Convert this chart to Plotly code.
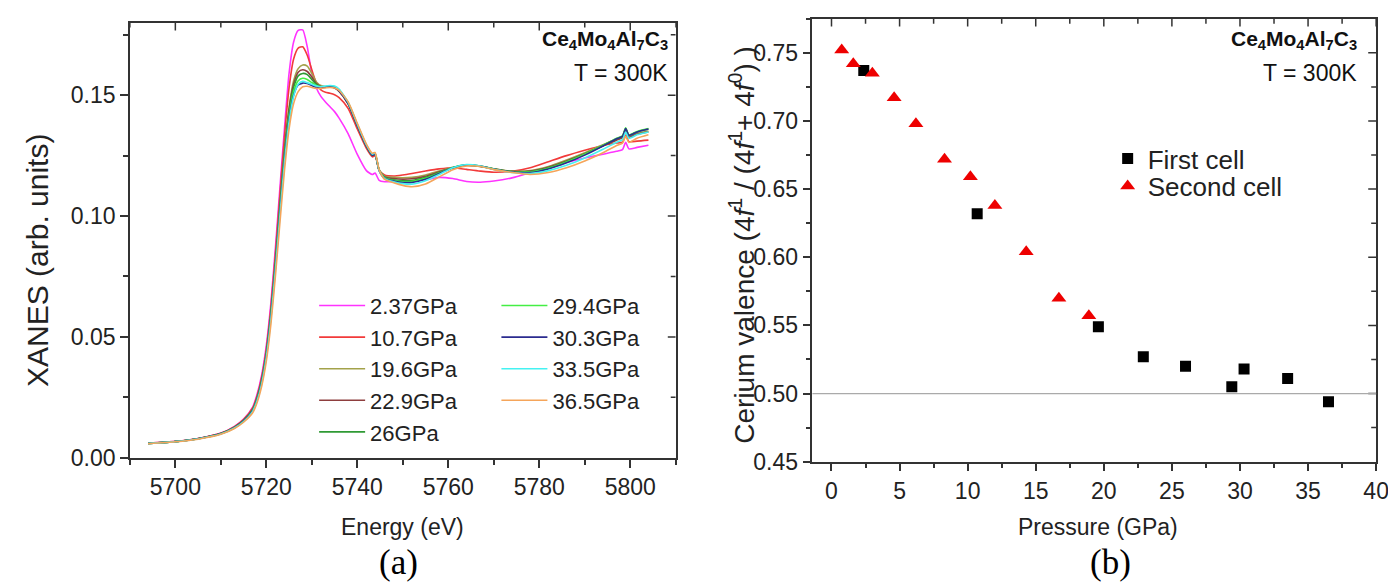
import plotly.graph_objects as go

# ---- panel (a): XANES spectra, energy grid shared by all pressures
energy = [5694, 5700, 5705, 5710, 5713, 5715, 5717, 5718, 5719, 5720,
          5721, 5722, 5723, 5724, 5725, 5726, 5727, 5728, 5729, 5730,
          5731, 5732, 5733, 5734, 5735, 5736, 5738, 5740, 5742, 5743.3,
          5743.9, 5744.8, 5746, 5748, 5750, 5752, 5755, 5758, 5761, 5764,
          5767, 5770, 5774, 5778, 5782, 5786, 5790, 5794, 5797, 5798.3,
          5799, 5799.7, 5801.5, 5804]

xanes_2_37 = [0.0060, 0.0068, 0.0080, 0.0102, 0.0130, 0.0160, 0.0210, 0.0265,
              0.0345, 0.0465, 0.0640, 0.0870, 0.1120, 0.1365, 0.1590, 0.1720, 0.1768, 0.1770, 0.1700,
              0.1590, 0.1530, 0.1495, 0.1472, 0.1452, 0.1432, 0.1405,
              0.1340, 0.1255, 0.1188, 0.1172, 0.1178, 0.1148, 0.1142,
              0.1142, 0.1142, 0.1144, 0.1150, 0.1160, 0.1155, 0.1143, 0.1140, 0.1145,
              0.1158, 0.1180, 0.1203, 0.1222, 0.1240, 0.1256, 0.1268,
              0.1275, 0.1305, 0.1278, 0.1284, 0.1293]
xanes_10_7 = [0.0060, 0.0068, 0.0080, 0.0101, 0.0129, 0.0158, 0.0206, 0.0258,
              0.0335, 0.0450, 0.0620, 0.0845, 0.1090, 0.1330, 0.1530, 0.1650, 0.1695, 0.1700, 0.1665,
              0.1605, 0.1550, 0.1522, 0.1512, 0.1508, 0.1502, 0.1490,
              0.1445, 0.1360, 0.1280, 0.1245, 0.1250, 0.1190, 0.1170,
              0.1166, 0.1170, 0.1176, 0.1186, 0.1195, 0.1200, 0.1193, 0.1186, 0.1181,
              0.1185, 0.1200, 0.1225, 0.1250, 0.1272, 0.1292, 0.1302,
              0.1306, 0.1335, 0.1308, 0.1310, 0.1314]
xanes_19_6 = [0.0059, 0.0067, 0.0079, 0.0100, 0.0127, 0.0155, 0.0200, 0.0250,
              0.0325, 0.0435, 0.0600, 0.0815, 0.1050, 0.1275, 0.1450, 0.1560, 0.1610, 0.1625, 0.1620,
              0.1590, 0.1555, 0.1540, 0.1536, 0.1536, 0.1532, 0.1518,
              0.1465, 0.1375, 0.1290, 0.1252, 0.1258, 0.1192, 0.1165,
              0.1160, 0.1158, 0.1160, 0.1170, 0.1186, 0.1202, 0.1210, 0.1206, 0.1196,
              0.1186, 0.1188, 0.1205, 0.1232, 0.1262, 0.1295, 0.1318,
              0.1328, 0.1360, 0.1330, 0.1342, 0.1352]
xanes_22_9 = [0.0059, 0.0067, 0.0079, 0.0100, 0.0127, 0.0155, 0.0200, 0.0250,
              0.0325, 0.0435, 0.0598, 0.0812, 0.1045, 0.1270, 0.1440, 0.1545, 0.1595, 0.1605, 0.1598,
              0.1575, 0.1548, 0.1535, 0.1533, 0.1534, 0.1530, 0.1516,
              0.1463, 0.1373, 0.1288, 0.1250, 0.1256, 0.1190, 0.1162,
              0.1155, 0.1152, 0.1154, 0.1165, 0.1183, 0.1200, 0.1209, 0.1205, 0.1195,
              0.1185, 0.1186, 0.1202, 0.1228, 0.1258, 0.1290, 0.1314,
              0.1324, 0.1355, 0.1326, 0.1338, 0.1348]
xanes_26 = [0.0059, 0.0067, 0.0079, 0.0100, 0.0126, 0.0154, 0.0198, 0.0247,
            0.0320, 0.0430, 0.0592, 0.0805, 0.1035, 0.1258, 0.1428, 0.1532, 0.1580, 0.1590, 0.1585,
            0.1565, 0.1545, 0.1535, 0.1535, 0.1537, 0.1534, 0.1520,
            0.1466, 0.1376, 0.1290, 0.1252, 0.1257, 0.1190, 0.1160,
            0.1150, 0.1146, 0.1147, 0.1160, 0.1180, 0.1200, 0.1210, 0.1206, 0.1195,
            0.1184, 0.1184, 0.1200, 0.1226, 0.1257, 0.1292, 0.1320,
            0.1330, 0.1362, 0.1334, 0.1348, 0.1360]
xanes_29_4 = [0.0059, 0.0067, 0.0079, 0.0099, 0.0125, 0.0152, 0.0196, 0.0244,
              0.0316, 0.0425, 0.0585, 0.0795, 0.1025, 0.1245, 0.1412, 0.1515, 0.1560, 0.1570, 0.1565,
              0.1552, 0.1540, 0.1533, 0.1535, 0.1538, 0.1535, 0.1522,
              0.1468, 0.1378, 0.1292, 0.1254, 0.1258, 0.1190, 0.1158,
              0.1147, 0.1142, 0.1143, 0.1156, 0.1178, 0.1201, 0.1212, 0.1207, 0.1195,
              0.1183, 0.1182, 0.1198, 0.1224, 0.1256, 0.1292, 0.1322,
              0.1332, 0.1365, 0.1336, 0.1350, 0.1362]
xanes_30_3 = [0.0059, 0.0067, 0.0079, 0.0099, 0.0125, 0.0152, 0.0195, 0.0242,
              0.0314, 0.0422, 0.0582, 0.0790, 0.1018, 0.1236, 0.1400, 0.1500, 0.1542, 0.1550, 0.1548,
              0.1540, 0.1532, 0.1530, 0.1533, 0.1535, 0.1532, 0.1518,
              0.1465, 0.1375, 0.1290, 0.1252, 0.1256, 0.1188, 0.1156,
              0.1145, 0.1139, 0.1139, 0.1152, 0.1176, 0.1200, 0.1212, 0.1207, 0.1194,
              0.1182, 0.1180, 0.1195, 0.1220, 0.1252, 0.1290, 0.1320,
              0.1330, 0.1362, 0.1334, 0.1348, 0.1360]
xanes_33_5 = [0.0059, 0.0067, 0.0078, 0.0098, 0.0123, 0.0150, 0.0192, 0.0238,
              0.0308, 0.0415, 0.0572, 0.0778, 0.1005, 0.1222, 0.1390, 0.1495, 0.1545, 0.1557, 0.1552,
              0.1545, 0.1538, 0.1535, 0.1538, 0.1540, 0.1538, 0.1525,
              0.1470, 0.1380, 0.1294, 0.1256, 0.1260, 0.1190, 0.1155,
              0.1142, 0.1134, 0.1132, 0.1146, 0.1172, 0.1200, 0.1213, 0.1207, 0.1193,
              0.1180, 0.1176, 0.1188, 0.1210, 0.1240, 0.1276, 0.1305,
              0.1316, 0.1348, 0.1322, 0.1336, 0.1348]
xanes_36_5 = [0.0058, 0.0066, 0.0077, 0.0097, 0.0121, 0.0147, 0.0186, 0.0230,
              0.0298, 0.0400, 0.0552, 0.0752, 0.0975, 0.1190, 0.1360, 0.1465, 0.1515, 0.1535, 0.1537,
              0.1532, 0.1528, 0.1528, 0.1530, 0.1532, 0.1530, 0.1520,
              0.1472, 0.1384, 0.1298, 0.1260, 0.1263, 0.1192, 0.1152,
              0.1138, 0.1127, 0.1121, 0.1133, 0.1162, 0.1192, 0.1207, 0.1205, 0.1192,
              0.1180, 0.1172, 0.1180, 0.1200, 0.1228, 0.1262, 0.1292,
              0.1302, 0.1330, 0.1305, 0.1322, 0.1336]

spectra_labels = ["2.37GPa", "10.7GPa", "19.6GPa", "22.9GPa", "26GPa",
                  "29.4GPa", "30.3GPa", "33.5GPa", "36.5GPa"]
spectra = [xanes_2_37, xanes_10_7, xanes_19_6, xanes_22_9, xanes_26,
           xanes_29_4, xanes_30_3, xanes_33_5, xanes_36_5]
spectra_colors = ["#ff33ff", "#f23a3a", "#a3a24a", "#8e3e3e", "#2f9a35",
                  "#44ee44", "#2b2b8f", "#44f2f2", "#f5a55a"]

# ---- panel (b): cerium valence vs pressure
p_first = [2.37, 10.7, 19.6, 22.9, 26.0, 29.4, 30.3, 33.5, 36.5]
v_first = [0.737, 0.632, 0.549, 0.527, 0.520, 0.505, 0.518, 0.511, 0.494]
p_second = [0.75, 1.6, 3.0, 4.6, 6.2, 8.3, 10.2, 12.0, 14.3, 16.7, 18.9]
v_second = [0.752, 0.742, 0.735, 0.717, 0.698, 0.672, 0.659, 0.638, 0.604, 0.570, 0.557]
valence_ref = 0.5

FONT = "Liberation Sans, Arial, sans-serif"
AX = "#333333"
W, H = 1396, 585

# plot areas in pixels (left, right, top, bottom) and axis ranges
PA = (123, 674, 15, 460)
PB = (812, 1381, 11, 464)
xa_range = [5690, 5810]
ya_range = [0, 0.18]
xb_range = [-1.4, 40]
yb_range = [0.45, 0.775]

xa_dom = [PA[0] / W, PA[1] / W]
ya_dom = [(H - PA[3]) / H, (H - PA[2]) / H]
xb_dom = [PB[0] / W, PB[1] / W]
yb_dom = [(H - PB[3]) / H, (H - PB[2]) / H]

fig = go.Figure()

for i, (lab, ys, col) in enumerate(zip(spectra_labels, spectra, spectra_colors)):
    fig.add_trace(go.Scatter(
        x=energy, y=ys, name=lab, mode="lines",
        line=dict(color=col, width=1.6, shape="spline", smoothing=0.6),
        legend="legend" if i < 5 else "legend2",
        xaxis="x", yaxis="y"))

fig.add_trace(go.Scatter(
    x=p_first, y=v_first, name="First cell", mode="markers",
    marker=dict(symbol="square", size=11, color="black"),
    legend="legend3", xaxis="x2", yaxis="y2"))
fig.add_trace(go.Scatter(
    x=p_second, y=v_second, name="Second cell", mode="markers",
    marker=dict(symbol="triangle-up", size=13, color="#ee0000"),
    legend="legend4", xaxis="x2", yaxis="y2"))


# inward ticks on the mirrored top / right frame lines (Origin style),
# drawn as a line trace in axis units
def inner_ticks(xa, ya, pa, xr, yr, xvals, yvals):
    ppx = (pa[1] - pa[0]) / (xr[1] - xr[0])
    ppy = (pa[3] - pa[2]) / (yr[1] - yr[0])
    xs, ys = [], []
    for v, ln in xvals:
        xs += [v, v, None]
        ys += [yr[1], yr[1] - ln / ppy, None]
    for v, ln in yvals:
        xs += [xr[1], xr[1] - ln / ppx, None]
        ys += [v, v, None]
    fig.add_trace(go.Scatter(x=xs, y=ys, mode="lines", xaxis=xa, yaxis=ya,
                             line=dict(color=AX, width=1.5), showlegend=False,
                             hoverinfo="skip"))


inner_ticks("x", "y", PA, xa_range, ya_range,
            [(5700 + 10 * k, 8 if k % 2 == 0 else 5) for k in range(-1, 12)],
            [(0.025 * k, 8 if k % 2 == 0 else 5) for k in range(1, 8)])
inner_ticks("x2", "y2", PB, xb_range, yb_range,
            [(2.5 * k, 8 if k % 2 == 0 else 5) for k in range(0, 17)],
            [(0.45 + 0.025 * k, 8 if k % 2 == 0 else 5) for k in range(1, 13)])


def base_axis(**kw):
    d = dict(showline=True, linecolor=AX, linewidth=1.5, mirror=True,
             showgrid=False, zeroline=False, ticks="outside", ticklen=8,
             tickwidth=1.5, tickcolor=AX,
             tickfont=dict(family=FONT, size=23, color="#222"))
    d.update(kw)
    return d


minor_o = lambda dt, t0: dict(ticks="outside", ticklen=5, tickwidth=1.5, tickcolor=AX, dtick=dt, tick0=t0)

leg = lambda x, top, size, iw: dict(x=x / W, y=(H - top) / H, xanchor="left", yanchor="top",
                                    bgcolor="rgba(0,0,0,0)", itemwidth=iw,
                                    font=dict(family=FONT, size=size, color="#222"))

fig.update_layout(
    width=W, height=H,
    margin=dict(l=0, r=0, t=0, b=0),
    paper_bgcolor="white", plot_bgcolor="white",
    font=dict(family=FONT, color="#222"),
    xaxis=base_axis(domain=xa_dom, range=xa_range, anchor="y", dtick=20, tick0=5700,
                    minor=minor_o(10, 5700)),
    yaxis=base_axis(domain=ya_dom, range=ya_range, anchor="x", dtick=0.05, tick0=0,
                    tickformat=".2f", minor=minor_o(0.025, 0)),
    xaxis2=base_axis(domain=xb_dom, range=xb_range, anchor="y2", dtick=5, tick0=0,
                     minor=minor_o(2.5, 0)),
    yaxis2=base_axis(domain=yb_dom, range=yb_range, anchor="x2", dtick=0.05, tick0=0.45,
                     tickformat=".2f", minor=minor_o(0.025, 0.45)),
    legend=leg(309, 283, 22, 46),
    legend2=leg(493, 283, 22, 46),
    legend3=leg(1110, 130, 26, 30),
    legend4=leg(1110, 158, 26, 30),
)

fig.add_shape(type="line", xref="x2 domain", x0=0, x1=1, yref="y2",
              y0=valence_ref, y1=valence_ref, line=dict(color="#aaaaaa", width=1.2))

formula = "<b>Ce<sub>4</sub>Mo<sub>4</sub>Al<sub>7</sub>C<sub>3</sub></b>"
ann = []
for xr, y1, y2 in [(668, 33, 66), (1364, 33, 66)]:
    ann.append(dict(text=formula, x=xr / W, y=(H - y1) / H, xref="paper", yref="paper",
                    xanchor="right", yanchor="middle", showarrow=False,
                    font=dict(family=FONT, size=21, color="#111")))
    ann.append(dict(text="T = 300K", x=xr / W, y=(H - y2) / H, xref="paper", yref="paper",
                    xanchor="right", yanchor="middle", showarrow=False,
                    font=dict(family=FONT, size=23, color="#111")))

titles = [
    dict(text="Energy (eV)", x=398 / W, y=(H - 531) / H, font_size=23),
    dict(text="Pressure (GPa)", x=1100 / W, y=(H - 531) / H, font_size=23),
    dict(text="XANES (arb. units)", x=30 / W, y=(H - 258) / H, textangle=-90, font_size=30),
    dict(text="Cerium valence (4<i>f</i><sup>1</sup> / (4<i>f</i><sup>1</sup>+ 4<i>f</i><sup>0</sup>) )",
         x=741 / W, y=(H - 242) / H, textangle=-90, font_size=28),
]
for a in titles:
    size = a.pop("font_size")
    a.update(xref="paper", yref="paper", xanchor="center", yanchor="middle",
             showarrow=False, font=dict(family=FONT, size=size, color="#222"))
    ann.append(a)

for lab, xc in [("(a)", 394), ("(b)", 1113)]:
    ann.append(dict(text=lab, x=xc / W, y=(H - 567) / H, xref="paper", yref="paper",
                    xanchor="center", yanchor="middle", showarrow=False,
                    font=dict(family="Liberation Serif, Times New Roman, serif", size=35, color="#000")))

fig.update_layout(annotations=ann)

fig.write_html("out.html")
